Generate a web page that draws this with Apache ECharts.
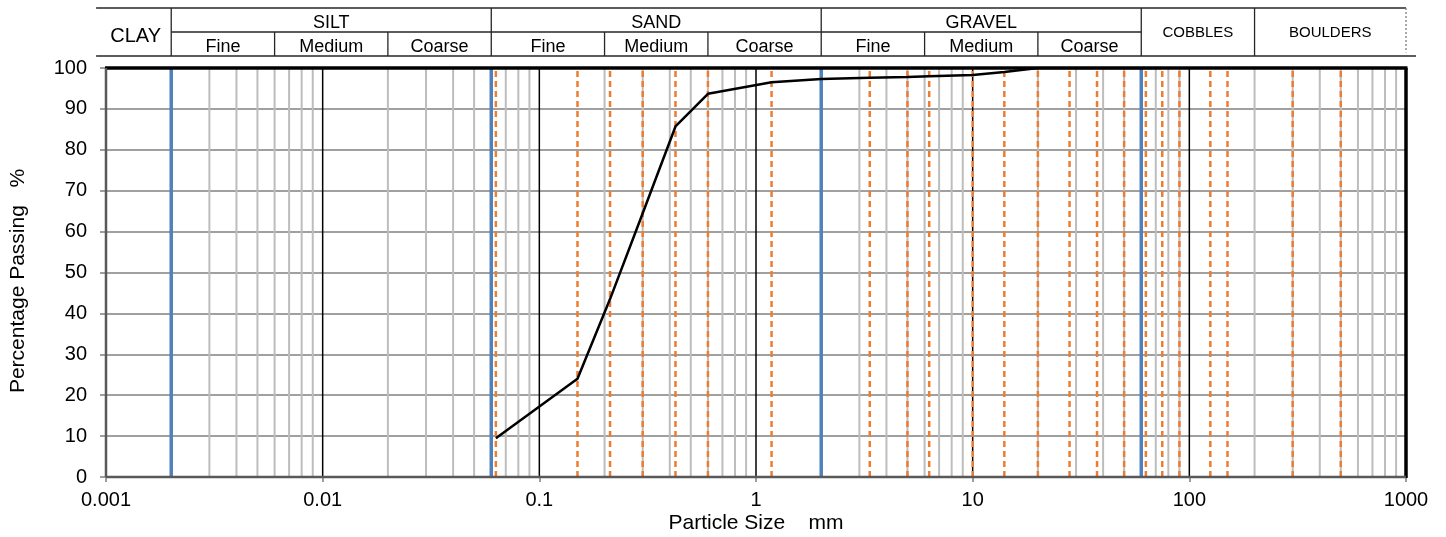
<!DOCTYPE html>
<html>
<head>
<meta charset="utf-8">
<title>Particle size distribution</title>
<script src="https://cdn.jsdelivr.net/npm/echarts@6/dist/echarts.min.js"></script>
<style>
  html, body { margin: 0; padding: 0; background: #fff; }
  #chart { width: 1446px; height: 537px; }
</style>
</head>
<body>
<div id="chart"></div>
<script>
// grading curve (sieve size mm, % passing)
const sieveSize = [0.063, 0.15, 0.212, 0.3, 0.425, 0.6, 1.18, 2, 3.35, 5, 6.3, 10, 14, 20, 28, 37.5, 50, 63, 75];
const passing = [9.5, 24, 43.5, 64.5, 85.7, 93.7, 96.5, 97.3, 97.6, 97.8, 98.0, 98.3, 99.0, 100, 100, 100, 100, 100, 100];

// orange dashed sieve lines, blue class boundaries
const sieveLines = [0.063, 0.15, 0.212, 0.3, 0.425, 0.6, 1.18, 3.35, 5, 6.3, 10, 14, 20, 28, 37.5, 50, 63, 75, 90, 125, 150, 300, 500];
const classBounds = [0.002, 0.06, 2, 60];

// log grid
const decades = [0.001, 0.01, 0.1, 1, 10, 100];
const majorLines = [0.01, 0.1, 1, 10, 100];
const minorSteps = [2, 3, 4, 5, 6, 7, 8, 9];

// header table
const zoneNames = ['CLAY', 'SILT', 'SAND', 'GRAVEL', 'COBBLES', 'BOULDERS'];
const zoneEdges = [0.0009, 0.002, 0.06, 2, 60, 200, 1000];
const zoneSplit = [false, true, true, true, false, false];
const subNames = ['Fine', 'Medium', 'Coarse'];
const subEdges = {
  1: [0.002, 0.006, 0.02, 0.06],
  2: [0.06, 0.2, 0.6, 2],
  3: [2, 6, 20, 60]
};

const FONT = '"Liberation Sans", Arial, sans-serif';
const minorGrid = [];
decades.forEach(d => minorSteps.forEach(k => minorGrid.push(+(d * k).toPrecision(3))));

/* 方法：竖线 series */
function vLineSeries(name, values, style, z) {
  return {
    name, type: 'custom', z, silent: true,
    data: values.map(v => [v, 0]),
    encode: { x: 0, y: 1 },
    renderItem: (params, api) => {
      const p0 = api.coord([api.value(0), 0]);
      const p1 = api.coord([api.value(0), 100]);
      return { type: 'line', shape: { x1: p0[0], y1: p0[1], x2: p1[0], y2: p1[1] }, style };
    }
  };
}

/* 方法：plot frame */
function renderFrame(params, api) {
  const [l, b] = api.coord([0.001, 0]);
  const [r, t] = api.coord([1000, 100]);
  const black = { stroke: '#000', lineWidth: 3.5 };
  const grey = { stroke: '#595959', lineWidth: 2.5 };
  return {
    type: 'group',
    children: [
      { type: 'line', shape: { x1: l - 1, y1: t, x2: r + 1.5, y2: t }, style: black },
      { type: 'line', shape: { x1: r, y1: t, x2: r, y2: b + 1 }, style: black },
      { type: 'line', shape: { x1: l, y1: t, x2: l, y2: b }, style: grey },
      { type: 'line', shape: { x1: l, y1: b, x2: r, y2: b }, style: grey }
    ]
  };
}

/* 方法：header table */
function renderHeader(params, api) {
  const X = v => api.coord([v, 0])[0];
  const Y = r => api.coord([1, r])[1];
  const kids = [];
  const line = (x1, y1, x2, y2, dash) => kids.push({
    type: 'line',
    shape: { x1, y1, x2, y2 },
    style: { stroke: dash ? '#7f7f7f' : '#262626', lineWidth: 1.3, lineDash: dash || null }
  });
  const text = (t, x, y, size) => kids.push({
    type: 'text',
    style: { text: t, x, y, fill: '#000', fontSize: size, fontFamily: FONT, align: 'center', verticalAlign: 'middle' }
  });

  line(X(zoneEdges[0]), Y(2), X(1000), Y(2));
  line(X(zoneEdges[0]), Y(0), X(1112), Y(0));
  line(X(0.002), Y(1), X(60), Y(1));
  zoneEdges.slice(1, -1).forEach(v => line(X(v), Y(0), X(v), Y(2)));
  line(X(1000), Y(2), X(1000), Y(0.15), [2, 2]);

  zoneNames.forEach((name, i) => {
    const cx = (X(zoneEdges[i]) + X(zoneEdges[i + 1])) / 2;
    if (zoneSplit[i]) {
      text(name, cx, (Y(2) + Y(1)) / 2 + 3, 18);
      const e = subEdges[i];
      e.slice(1, -1).forEach(v => line(X(v), Y(0), X(v), Y(1)));
      subNames.forEach((s, j) => text(s, (X(e[j]) + X(e[j + 1])) / 2, (Y(1) + Y(0)) / 2 + 3, 18));
    } else if (name === 'CLAY') {
      text(name, cx + 2, Y(1) + 4, 20);
    } else {
      text(name, cx, Y(1) + 1, 15);
    }
  });
  return { type: 'group', children: kids };
}

const chart = echarts.init(document.getElementById('chart'));
chart.setOption({
  animation: false,
  backgroundColor: '#fff',
  textStyle: { fontFamily: FONT },
  grid: [
    { left: 106, right: 40, top: 68, bottom: 60 },
    { left: 106, right: 40, top: 8, height: 48 }
  ],
  xAxis: [
    {
      type: 'log', logBase: 10, min: 0.001, max: 1000, splitNumber: 6, gridIndex: 0,
      axisLine: { show: false },
      axisTick: { show: true, length: 5, lineStyle: { color: '#7f7f7f', width: 1.5 } },
      axisLabel: { fontSize: 20, color: '#000', margin: 13, formatter: v => String(Number(v.toPrecision(1))) },
      splitLine: { show: false },
      minorTick: { show: false }
    },
    { type: 'log', logBase: 10, min: 0.001, max: 1000, gridIndex: 1, show: false }
  ],
  yAxis: [
    {
      type: 'value', min: 0, max: 100, interval: 10, gridIndex: 0,
      axisLine: { show: false },
      axisTick: { show: true, length: 6, lineStyle: { color: '#7f7f7f', width: 1.5 } },
      axisLabel: { fontSize: 20, color: '#000', margin: 19 },
      splitLine: { show: true, lineStyle: { color: '#a0a0a0', width: 2 } }
    },
    { type: 'value', min: 0, max: 2, gridIndex: 1, show: false }
  ],
  graphic: [
    { type: 'text', x: 756, y: 523, style: { text: 'Particle Size    mm', fontSize: 21, fontFamily: FONT, fill: '#000', align: 'center', verticalAlign: 'middle' } },
    { type: 'text', x: 18, y: 281, rotation: Math.PI / 2, style: { text: 'Percentage Passing   %', fontSize: 21, fontFamily: FONT, fill: '#000', align: 'center', verticalAlign: 'middle' } }
  ],
  series: [
    vLineSeries('minor grid', minorGrid, { stroke: '#bdbdbd', lineWidth: 2 }, 1),
    vLineSeries('major grid', majorLines, { stroke: '#000', lineWidth: 1.5 }, 2),
    vLineSeries('sieves', sieveLines, { stroke: '#ed7d31', lineWidth: 2.5, lineDash: [6, 4] }, 3),
    vLineSeries('boundaries', classBounds, { stroke: '#4f81bd', lineWidth: 3.5 }, 4),
    {
      name: 'grading', type: 'line', z: 5,
      data: sieveSize.map((s, i) => [s, passing[i]]),
      showSymbol: false, symbol: 'none',
      lineStyle: { color: '#000', width: 2.5 }
    },
    {
      name: 'frame', type: 'custom', z: 6, silent: true, clip: false,
      data: [[1, 50]], renderItem: renderFrame
    },
    {
      name: 'header', type: 'custom', xAxisIndex: 1, yAxisIndex: 1, clip: false, silent: true,
      data: [[1, 1]], renderItem: renderHeader
    }
  ]
});
</script>
</body>
</html>
